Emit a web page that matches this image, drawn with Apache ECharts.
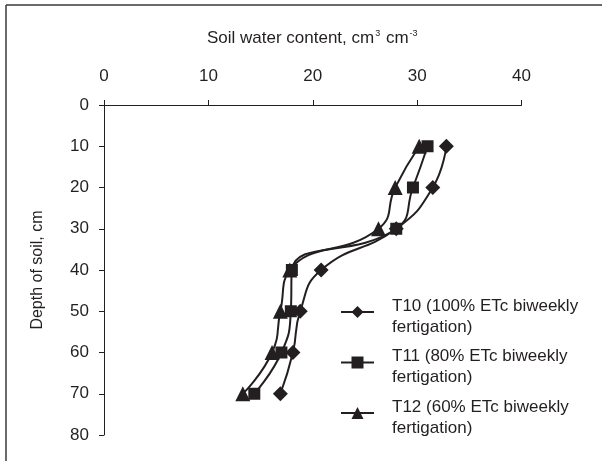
<!DOCTYPE html>
<html><head><meta charset="utf-8">
<script src="https://cdn.jsdelivr.net/npm/echarts@6/dist/echarts.min.js"></script>
<style>html,body{margin:0;padding:0;background:#fff}#c{width:602px;height:461px}</style>
</head><body><div id="c"></div>
<script>
const depths = [10, 20, 30, 40, 50, 60, 70];
const t10 = [32.8, 31.5, 28.0, 20.8, 18.8, 18.1, 16.9];
const t11 = [31.0, 29.6, 28.0, 18.0, 17.9, 17.0, 14.4];
const t12 = [30.2, 27.9, 26.3, 17.8, 16.9, 16.1, 13.3];
const seriesNames = [
  'T10 (100% ETc biweekly\nfertigation)',
  'T11 (80% ETc biweekly\nfertigation)',
  'T12 (60% ETc biweekly\nfertigation)'
];
const xTicks = [0, 10, 20, 30, 40];
const yTicks = [0, 10, 20, 30, 40, 50, 60, 70, 80];

const ink = '#231f20';
const font = 'Liberation Sans, Arial, sans-serif';
const pairs = arr => arr.map((v, i) => [v, depths[i]]);
const symbols = ['diamond', 'rect', 'triangle'];
const sizes = [15, 12, 15];

const chart = echarts.init(document.getElementById('c'), null, {renderer: 'canvas'});
chart.setOption({
  animation: false,
  backgroundColor: '#fff',
  textStyle: {fontFamily: font},
  grid: {left: 104, right: 80.5, top: 105, bottom: 26, containLabel: false},
  graphic: [
    {type: 'line', shape: {x1: 6, y1: 5, x2: 602, y2: 5}, style: {stroke: '#3a3a3a', lineWidth: 1.5}},
    {type: 'line', shape: {x1: 6, y1: 5, x2: 6, y2: 461}, style: {stroke: '#3a3a3a', lineWidth: 1.5}}
  ],
  xAxis: {
    type: 'value', position: 'top', min: xTicks[0], max: xTicks[xTicks.length - 1], interval: 10,
    name: 'Soil water content, cm{sup|3} cm{sup|-3}', nameLocation: 'middle', nameGap: 58,
    nameTextStyle: {color: ink, fontSize: 17, fontFamily: font,
      rich: {sup: {fontSize: 9, verticalAlign: 'top', color: ink, fontFamily: font, padding: [0, 1, 9, 1]}}},
    axisLine: {lineStyle: {color: ink, width: 1}},
    axisTick: {length: 5, lineStyle: {color: ink}},
    axisLabel: {color: ink, fontSize: 17, margin: 20, fontFamily: font},
    splitLine: {show: false}
  },
  yAxis: {
    type: 'value', inverse: true, min: yTicks[0], max: yTicks[yTicks.length - 1], interval: 10,
    name: 'Depth of soil, cm', nameLocation: 'middle', nameGap: 58, nameRotate: 90,
    nameTextStyle: {color: ink, fontSize: 16, fontFamily: font},
    axisLine: {lineStyle: {color: ink, width: 1}},
    axisTick: {length: 5, lineStyle: {color: ink}},
    axisLabel: {color: ink, fontSize: 17, margin: 15, fontFamily: font},
    splitLine: {show: false}
  },
  legend: {
    orient: 'vertical', left: 340, top: 288, itemGap: 3, padding: 0,
    itemWidth: 33, itemHeight: 15,
    data: seriesNames,
    formatter: name => {
      const parts = name.split('\n');
      return '{pad| }\n{t|' + parts[0] + '}\n{t|' + parts[1] + '}';
    },
    textStyle: {color: ink, fontSize: 17, fontFamily: font,
      rich: {
        pad: {fontSize: 6, lineHeight: 9},
        t: {fontSize: 17, lineHeight: 21, color: ink, fontFamily: font, padding: [0, 0, 0, 13]}
      }}
  },
  series: [t10, t11, t12].map((d, i) => ({
    name: seriesNames[i], type: 'line', data: pairs(d), smooth: 0.5,
    symbol: symbols[i], symbolSize: sizes[i],
    itemStyle: {color: ink}, lineStyle: {color: ink, width: 2}
  }))
});
</script></body></html>
